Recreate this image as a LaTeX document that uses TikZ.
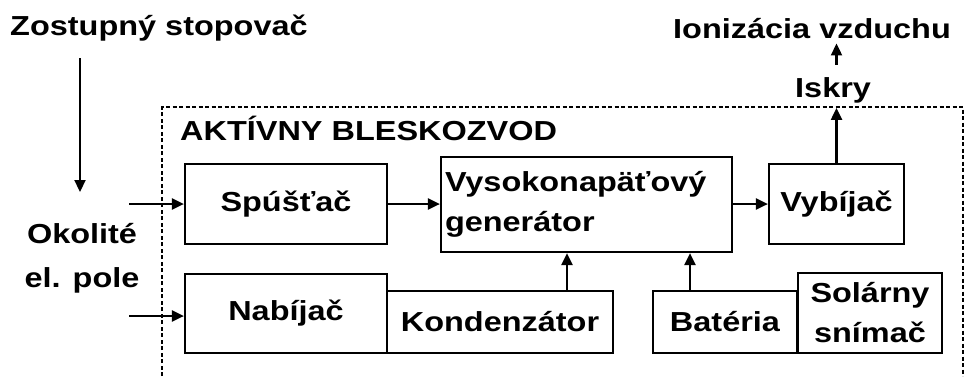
\documentclass[tikz,border=0pt]{standalone}
\usepackage{fontspec}
\setmainfont[FakeStretch=1.18]{Liberation Sans}
\usetikzlibrary{arrows.meta}

\begin{document}
\begin{tikzpicture}[x=1pt,y=-1pt,
    every node/.style={font=\bfseries\fontsize{27.5}{40}\selectfont, inner sep=0pt},
    block/.style={draw, line width=2.2pt},
    arr/.style={line width=2.2pt, -{Triangle[length=12pt,width=11pt]}}]

    \useasboundingbox (0,0) rectangle (965,376);

    % ramik bleskozvodu
    \draw[line width=1.8pt, dash pattern=on 4pt off 2.5pt] (162,376) -- (162,107) -- (963,107) -- (963,376);

    \node[anchor=base west] (stopovac) at (10,35) {Zostupný stopovač};
    \node[anchor=base west] (nazov) at (180,140) {AKTÍVNY BLESKOZVOD};
    \node[anchor=base west] (ionizacia) at (673,38) {Ionizácia vzduchu};
    \node[anchor=base west] (iskry) at (795,97) {Iskry};
    \node[align=center] (pole) at (82,258) {Okolité\\[4pt]el. pole};

    % bloky
    \node[block, minimum width=202pt, minimum height=80pt] (spustac) at (286,204) {Spúšťač};
    \node[block, text width=283pt, inner xsep=4pt, minimum height=95pt, align=left] (gen) at (586.5,204.5) {Vysokonapäťový\\generátor};
    \node[block, minimum width=135pt, minimum height=80pt] (vybijac) at (836.5,204) {Vybíjač};
    \node[block, minimum width=202pt, minimum height=79pt] (nabijac) at (286,313.5) {Nabíjač};
    \node[block, minimum width=226pt, minimum height=62pt] (kond) at (500,322) {Kondenzátor};
    \node[block, minimum width=144pt, minimum height=62pt] (bateria) at (725,322) {Batéria};
    \node[block, minimum width=144pt, minimum height=80pt, align=center] (solar) at (870,313) {Solárny\\snímač};

    % sipky
    \coordinate (hore) at (80,58);
    \coordinate (dole) at (80,192);
    \coordinate (vstup1) at (129,204);
    \coordinate (vstup2) at (129,316);

    \draw[arr] (hore) -- (dole);
    \draw[arr] (vstup1) -- (spustac.west);
    \draw[arr] (vstup2) -- (vstup2 -| nabijac.west);
    \draw[arr] (spustac.east) -- (spustac.east -| gen.west);
    \draw[arr] (gen.east |- vybijac.west) -- (vybijac.west);
    \draw[arr] ([xshift=67pt]kond.north) -- ([xshift=67pt]kond.north |- gen.south);
    \draw[arr] ([xshift=-35pt]bateria.north) -- ([xshift=-35pt]bateria.north |- gen.south);
    \draw[arr] (vybijac.north) -- ([yshift=-5pt]vybijac.north |- iskry.south);
    \draw[arr] ([yshift=12pt]vybijac.north |- iskry.north) -- ([yshift=-5pt]vybijac.north |- ionizacia.south);

\end{tikzpicture}
\end{document}
